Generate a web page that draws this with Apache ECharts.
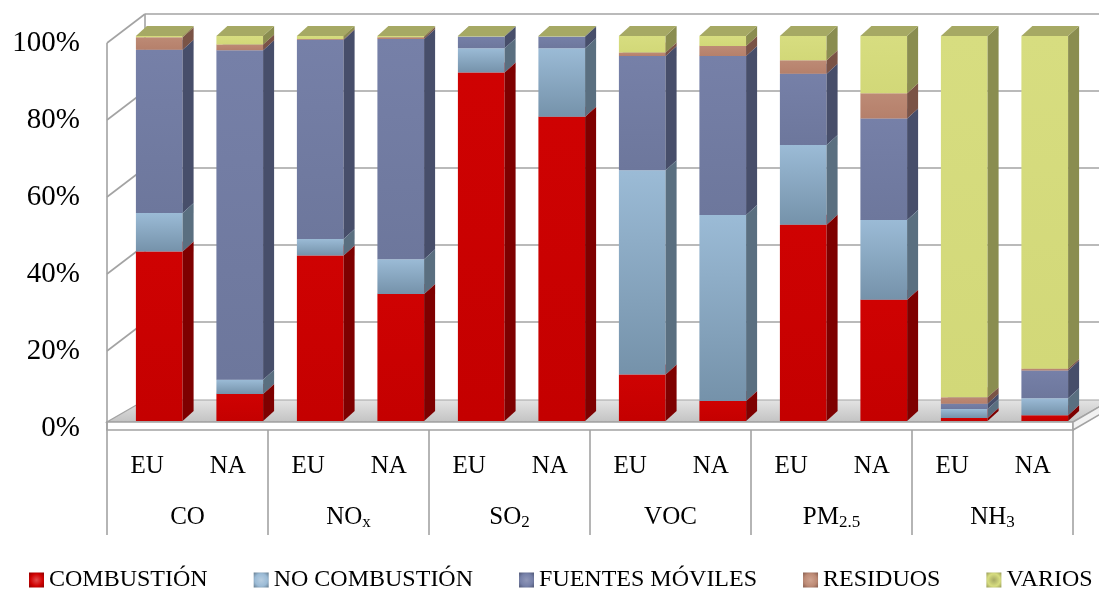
<!DOCTYPE html>
<html>
<head>
<meta charset="utf-8">
<script src="https://cdn.jsdelivr.net/npm/echarts@6/dist/echarts.min.js"></script>
<style>
  html, body { margin: 0; padding: 0; background: #ffffff; }
  #chart { width: 1099px; height: 590px; }
</style>
</head>
<body>
<div id="chart"></div>
<script>
// Regions per pollutant (lower axis row) and pollutant groups (upper row)
const regions = ['EU', 'NA', 'EU', 'NA', 'EU', 'NA', 'EU', 'NA', 'EU', 'NA', 'EU', 'NA'];
const pollutants = ['CO', 'NOx', 'SO2', 'VOC', 'PM2.5', 'NH3'];
const yTicks = [0, 20, 40, 60, 80, 100];

// Share of emissions by source (%)
const combustion    = [44.0, 7.0, 43.0, 33.0, 90.5, 79.0, 12.1, 5.2, 51.0, 31.5, 0.8, 1.5];
const noCombustion  = [10.0, 3.7, 4.3, 9.0, 6.3, 17.8, 53.0, 48.3, 20.7, 20.7, 2.3, 4.4];
const fuentesMov    = [42.4, 85.6, 51.7, 57.2, 3.1, 3.1, 29.7, 41.3, 18.5, 26.4, 1.4, 7.2];
const residuos      = [3.3, 1.5, 0.2, 0.5, 0, 0, 0.9, 2.6, 3.5, 6.5, 1.7, 0.5];
const varios        = [0.3, 2.2, 0.8, 0.3, 0.1, 0.1, 4.3, 2.6, 6.3, 14.9, 93.8, 86.4];

const seriesNames = ['COMBUSTIÓN', 'NO COMBUSTIÓN', 'FUENTES MÓVILES', 'RESIDUOS', 'VARIOS'];
const stacks = [combustion, noCombustion, fuentesMov, residuos, varios];

// Face colours for each source: front (top/bottom of gradient), side, top
const faces = [
  { front: '#cf0202', frontLow: '#c40000', side: '#7e0000', top: '#e24a4a' },
  { front: '#9bbbd6', frontLow: '#7592aa', side: '#5a6f80', top: '#b7cde0' },
  { front: '#7680a8', frontLow: '#6d779c', side: '#474e6a', top: '#9097b8' },
  { front: '#bd8a75', frontLow: '#b5806b', side: '#7a5346', top: '#cfa390' },
  { front: '#d7dd80', frontLow: '#d2d878', side: '#8a8d50', top: '#a6a964' }
];

const FONT = '"Liberation Serif", "DejaVu Serif", serif';
const BAR_SHIFT = [12, -7];    // front face of the bars relative to the front plane
const BAR_DEPTH = [11, -10];   // receding edge of each bar
const WALL_DEPTH = [38, -29];  // receding edge of walls and floor
const BAR_RATIO = 0.58;
const GRID_COLOR = '#a3a3a3';

function vGrad(c1, c2) {
  return { type: 'linear', x: 0, y: 0, x2: 0, y2: 1,
    colorStops: [{ offset: 0, color: c1 }, { offset: 1, color: c2 }] };
}

// Walls, floor slab and gridlines of the 3D plot area
function renderFrame(params, api) {
  const bw = api.size([1, 0])[0];
  const xL = api.coord([0, 0])[0] - bw / 2;
  const xR = api.coord([regions.length - 1, 0])[0] + bw / 2;
  const y = v => api.coord([0, v])[1];
  const y0 = y(0), yTop = y(100);
  const [wx, wy] = WALL_DEPTH;
  const line = (x1, y1, x2, y2) => ({
    type: 'line', shape: { x1, y1, x2, y2 },
    style: { stroke: GRID_COLOR, lineWidth: 1.6 }
  });
  const children = [];
  // floor top surface
  children.push({
    type: 'polygon',
    shape: { points: [[xL, y0 - 6], [xR, y0 - 6], [xR + wx, y0 - 28], [xL + wx, y0 - 28]] },
    style: { fill: vGrad('#e4e4e4', '#c2c2c2'), stroke: GRID_COLOR, lineWidth: 1.2 }
  });
  // floor front and right faces
  children.push({
    type: 'rect', shape: { x: xL, y: y0 - 6, width: xR - xL, height: 8 },
    style: { fill: '#ffffff', stroke: GRID_COLOR, lineWidth: 1.6 }
  });
  children.push({
    type: 'polygon',
    shape: { points: [[xR, y0 - 6], [xR + wx, y0 - 28], [xR + wx, y0 - 20], [xR, y0 + 2]] },
    style: { fill: '#f2f2f2', stroke: GRID_COLOR, lineWidth: 1.6 }
  });
  // back wall gridlines and side wall diagonals
  yTicks.forEach(v => {
    if (v > 0) {
      children.push(line(xL + wx, y(v) + wy, xR + wx + 40, y(v) + wy));
      children.push(line(xL, y(v), xL + wx, y(v) + wy));
    }
  });
  // wall edges
  children.push(line(xL, yTop, xL, y0 + 2));
  children.push(line(xL + wx, yTop + wy, xL + wx, y0 - 28));
  return { type: 'group', children };
}

// One stacked 3D segment (front, side and top faces)
function makeRender(k) {
  const f = faces[k];
  return function (params, api) {
    const i = api.value(0);
    const v = api.value(1);
    if (!(v > 0)) return;
    let base = 0;
    for (let j = 0; j < k; j++) base += stacks[j][i];
    const p0 = api.coord([i, base]);
    const p1 = api.coord([i, base + v]);
    const bw = api.size([1, 0])[0] * BAR_RATIO;
    const xL = p0[0] + BAR_SHIFT[0] - bw / 2;
    const xR = xL + bw;
    const yB = p0[1] + BAR_SHIFT[1];
    const yT = p1[1] + BAR_SHIFT[1];
    const [dx, dy] = BAR_DEPTH;
    return {
      type: 'group',
      children: [
        {
          type: 'rect',
          shape: { x: xL, y: yT, width: bw, height: yB - yT },
          style: { fill: vGrad(f.front, f.frontLow) }
        },
        {
          type: 'polygon',
          shape: { points: [[xR, yB], [xR + dx, yB + dy], [xR + dx, yT + dy], [xR, yT]] },
          style: { fill: f.side }
        },
        {
          type: 'polygon',
          shape: { points: [[xL, yT], [xR, yT], [xR + dx, yT + dy], [xL + dx, yT + dy]] },
          style: { fill: f.top }
        }
      ]
    };
  };
}

function pollutantLabel(name) {
  const m = name.match(/^([A-Z]+)(.*)$/);
  return m[2] ? '{base|' + m[1] + '}{sub|' + m[2] + '}' : '{base|' + m[1] + '}';
}

const legendIcon = c => ({
  type: 'radial', x: 0.5, y: 0.5, r: 0.75,
  colorStops: [{ offset: 0, color: c.top }, { offset: 0.55, color: c.front }, { offset: 1, color: c.side }]
});

const chart = echarts.init(document.getElementById('chart'), null, { renderer: 'canvas' });

const option = {
  animation: false,
  backgroundColor: '#ffffff',
  grid: { left: 107, right: 26, top: 43, bottom: 162 },
  xAxis: [
    {
      type: 'category',
      data: regions,
      position: 'bottom',
      axisLine: { show: false },
      axisTick: { show: false },
      axisLabel: { interval: 0, margin: 26, color: '#000', fontFamily: FONT, fontSize: 25 }
    },
    {
      type: 'category',
      data: pollutants,
      position: 'bottom',
      axisLine: { show: false },
      axisTick: { show: true, length: 107, lineStyle: { color: GRID_COLOR, width: 1.6 } },
      axisLabel: {
        interval: 0, margin: 75, color: '#000', fontFamily: FONT, fontSize: 25,
        formatter: pollutantLabel,
        rich: {
          base: { fontFamily: FONT, fontSize: 25, lineHeight: 28, color: '#000' },
          sub: { fontFamily: FONT, fontSize: 17, lineHeight: 18, verticalAlign: 'bottom', color: '#000' }
        }
      }
    }
  ],
  yAxis: {
    type: 'value', min: 0, max: 100, interval: 20,
    axisLine: { show: false },
    axisTick: { show: false },
    splitLine: { show: false },
    axisLabel: { margin: 27, color: '#000', fontFamily: FONT, fontSize: 29, formatter: '{value}%' }
  },
  legend: {
    left: 24, top: 563, width: 1600,
    itemWidth: 15, itemHeight: 15, itemGap: 46,
    icon: 'rect',
    textStyle: { color: '#000', fontFamily: FONT, fontSize: 24 },
    data: seriesNames.map((n, k) => ({ name: n, itemStyle: { color: legendIcon(faces[k]) } }))
  },
  series: [
    {
      type: 'custom', name: 'frame', silent: true, z: 1, clip: false,
      renderItem: renderFrame, data: [[0, 0]], encode: { x: 0, y: 1 }
    }
  ].concat(stacks.map((arr, k) => ({
    type: 'custom',
    name: seriesNames[k],
    z: 2 + k,
    clip: false,
    itemStyle: { color: faces[k].front },
    renderItem: makeRender(k),
    encode: { x: 0, y: 1 },
    data: arr.map((v, i) => [i, v])
  })))
};

chart.setOption(option);
</script>
</body>
</html>
